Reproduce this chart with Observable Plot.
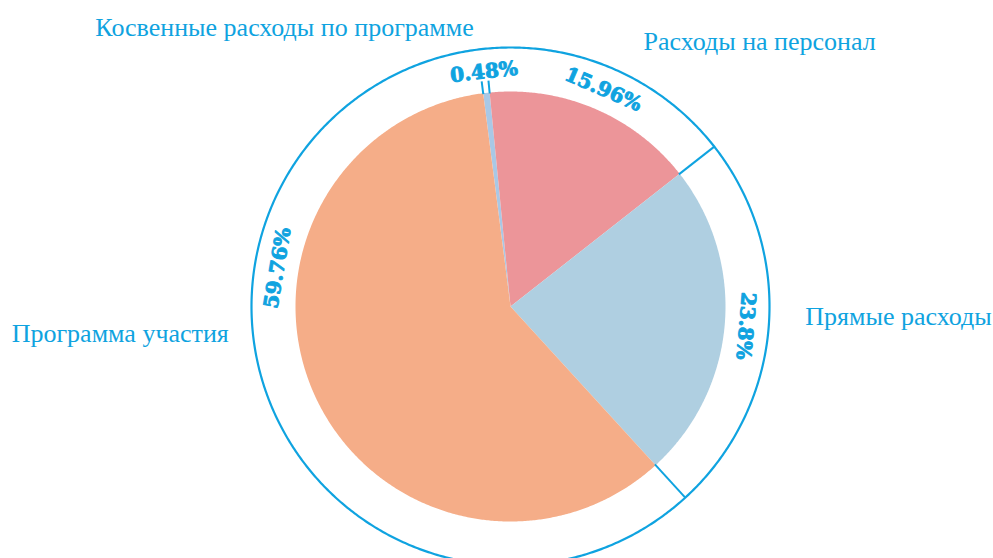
<!DOCTYPE html>
<html><head><meta charset="utf-8">
<script src="https://cdn.jsdelivr.net/npm/d3@7"></script>
<script src="https://cdn.jsdelivr.net/npm/@observablehq/plot@0.6"></script>
<style>body{margin:0;background:#fff}</style>
</head><body><div id="chart"></div>
<script>
const categories = ["Косвенные расходы по программе", "Расходы на персонал", "Прямые расходы", "Программа участия"];
const values = [0.48, 15.96, 23.8, 59.76];
const percentLabels = ["0.48%", "15.96%", "23.8%", "59.76%"];
const colors = ["#a9c8e6", "#ec9599", "#afcfe1", "#f5ad88"];

const W = 993, H = 558, cx = 510, cy = 306, R = 215, Rout = 259, Rlab = 236;
const cyan = "#0fa3e0";
const deg = Math.PI / 180;
const pt = (a, r) => ({x: cx + r * Math.sin(a), y: cy - r * Math.cos(a)});

const start = -7.3 * deg;
const arcs = d3.pie().sort(null).startAngle(start).endAngle(start + 2 * Math.PI)(values);

function slicePoints(a0, a1) {
  const n = Math.max(2, Math.ceil((a1 - a0) / (0.4 * deg)));
  const pts = [pt(0, 0)];
  for (let i = 0; i <= n; i++) pts.push(pt(a0 + (a1 - a0) * i / n, R));
  return pts;
}
const circle = d3.range(0, 721).map(i => pt(i * 0.5 * deg, Rout));

// dividers
const links = [];
links.push({a: arcs[0].startAngle, r0: R - 1, r1: R + 12});
links.push({a: arcs[0].endAngle, r0: R - 1, r1: R + 12});
links.push({a: arcs[2].startAngle, r0: R - 1, r1: Rout});
links.push({a: arcs[3].startAngle, r0: R - 1, r1: Rout});

const labelAngleOverride = {3: 279.4 * deg};
const pctData = arcs.map((d, i) => {
  const a = labelAngleOverride[i] ?? (d.startAngle + d.endAngle) / 2;
  const p = pt(a, Rlab);
  return {...p, text: percentLabels[i], rot: a / deg};
});

// category label layout (polar placement around the chart)
const catLayout = [
  {a: -39.0, r: 359, anchor: "middle"},
  {a: 26.7, r: 296, anchor: "start"},
  {a: 92.0, r: 295, anchor: "start"},
  {a: 264.5, r: 283, anchor: "end"}
];
const catData = categories.map((c, i) => ({...pt(catLayout[i].a * deg, catLayout[i].r), text: c, anchor: catLayout[i].anchor}));

const marks = [];
arcs.forEach((d, i) => {
  marks.push(Plot.line(slicePoints(d.startAngle, d.endAngle), {x: "x", y: "y", fill: colors[i], stroke: "none", curve: "linear-closed"}));
});
marks.push(Plot.line(circle, {x: "x", y: "y", stroke: cyan, strokeWidth: 2.2}));
marks.push(Plot.link(links, {
  x1: d => pt(d.a, d.r0).x, y1: d => pt(d.a, d.r0).y,
  x2: d => pt(d.a, d.r1).x, y2: d => pt(d.a, d.r1).y,
  stroke: cyan, strokeWidth: 2
}));
marks.push(Plot.text(pctData, {x: "x", y: "y", text: "text", rotate: "rot", fill: cyan,
  stroke: cyan, strokeWidth: 0.9,
  fontFamily: "DejaVu Serif", fontWeight: "bold", fontSize: 20, textAnchor: "middle", lineAnchor: "middle"}));
for (const anchor of ["start", "middle", "end"]) {
  marks.push(Plot.text(catData.filter(d => d.anchor === anchor), {x: "x", y: "y", text: "text", fill: cyan,
    fontFamily: "Liberation Serif", fontSize: 26, textAnchor: anchor, lineAnchor: "middle"}));
}

const chart = Plot.plot({
  width: W, height: H, margin: 0,
  x: {domain: [0, W], range: [0, W], axis: null},
  y: {domain: [0, H], range: [0, H], axis: null},
  style: {background: "#fff", overflow: "hidden"},
  marks
});
document.getElementById("chart").append(chart);
</script>
</body></html>
